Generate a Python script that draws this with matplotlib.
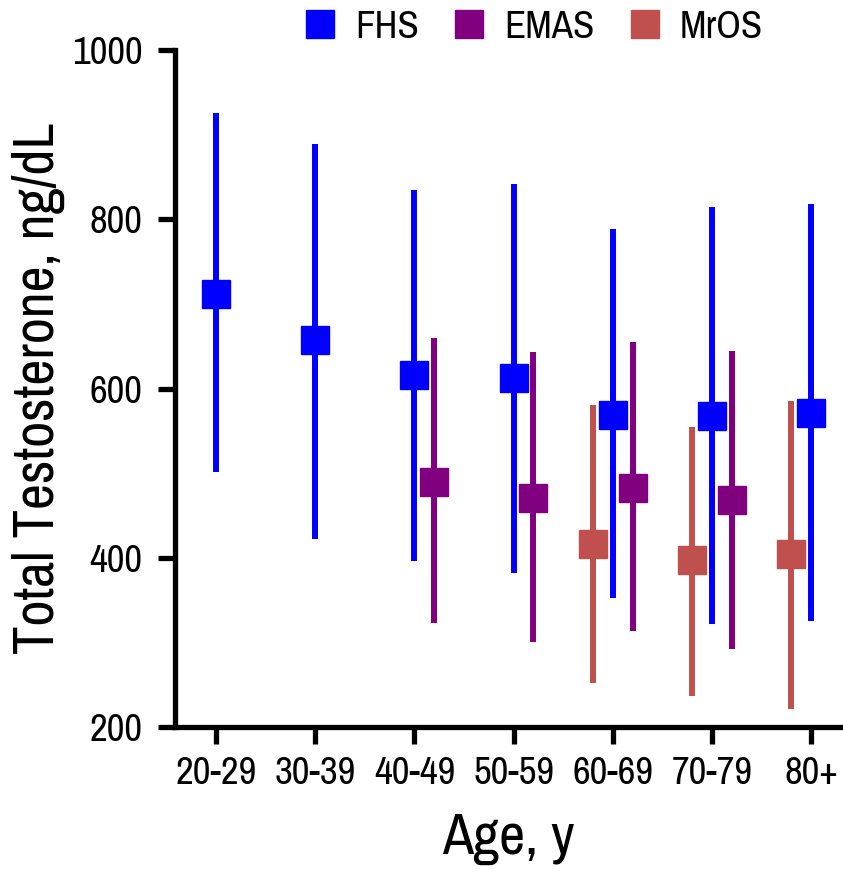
import matplotlib
matplotlib.use("Agg")
import matplotlib.pyplot as plt
from matplotlib.lines import Line2D
import numpy as np

plt.rcParams['font.family'] = ['Archivo Narrow', 'Roboto Condensed', 'DejaVu Sans']
plt.rcParams['font.weight'] = 'medium'

age_groups = ["20-29", "30-39", "40-49", "50-59", "60-69", "70-79", "80+"]

# Framingham Heart Study: median and 2.5th / 97.5th percentiles
fhs_median = [712, 657, 616, 612, 569, 568, 571]
fhs_low = [501, 422, 396, 382, 352, 322, 325]
fhs_high = [926, 889, 835, 842, 789, 814, 818]

# European Male Ageing Study (ages 40-79)
emas_groups = ["40-49", "50-59", "60-69", "70-79"]
emas_median = [490, 471, 482, 468]
emas_low = [323, 301, 314, 292]
emas_high = [660, 643, 655, 644]

# Osteoporotic Fractures in Men Study (ages 60+)
mros_groups = ["60-69", "70-79", "80+"]
mros_median = [416, 397, 404]
mros_low = [252, 237, 221]
mros_high = [581, 554, 585]

series = [
    ("FHS", age_groups, fhs_median, fhs_low, fhs_high, "#0000FF", 0.0),
    ("EMAS", emas_groups, emas_median, emas_low, emas_high, "#800080", 0.2),
    ("MrOS", mros_groups, mros_median, mros_low, mros_high, "#C0504D", -0.2),
]

fig = plt.figure(figsize=(8.43, 8.73), dpi=100)
ax = fig.add_axes([0.207, 0.1672, 0.793, 0.7755])

handles = []
for name, groups, med, lo, hi, color, shift in series:
    x = np.array([age_groups.index(g) for g in groups]) + shift
    med = np.array(med)
    yerr = [med - np.array(lo), np.array(hi) - med]
    ax.errorbar(x, med, yerr=yerr, fmt="s", color=color, ecolor=color,
                elinewidth=4.3, markersize=20, capsize=0, zorder=3)
    handles.append(Line2D([], [], marker="s", linestyle="none", color=color,
                          markersize=20, label=name))

ax.set_xlim(-0.418, 6.32)
ax.set_ylim(200, 1000)
ax.set_yticks([200, 400, 600, 800, 1000])
ax.set_xticks(range(len(age_groups)))
ax.set_xticklabels(age_groups)

for side in ("top", "right"):
    ax.spines[side].set_visible(False)
for side in ("left", "bottom"):
    ax.spines[side].set_linewidth(3.8)
ax.tick_params(axis="both", width=3.8, length=12, labelsize=28)
ax.tick_params(axis="y", pad=11)
ax.tick_params(axis="x", pad=9)

ax.set_xlabel("Age, y", fontsize=41, labelpad=16)
ax.set_ylabel("Total Testosterone, ng/dL", fontsize=41, labelpad=5)

fig.legend(handles=handles, loc="center", bbox_to_anchor=(0.633, 0.969),
           ncol=3, frameon=False, fontsize=28, handlelength=0.8,
           handletextpad=0.5, columnspacing=0.9, borderpad=0)

fig.savefig("out.png", dpi=100)
